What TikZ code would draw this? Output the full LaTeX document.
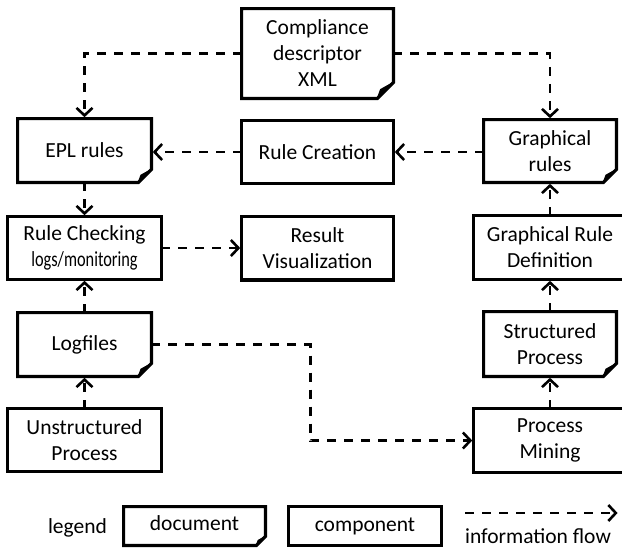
\documentclass[tikz,border=0pt]{standalone}
\usepackage{fontspec}
\setmainfont{Carlito}
\usepackage{graphicx}
\usetikzlibrary{arrows.meta}

% outline of a document box: rectangle with a curled bottom-right corner
\newcommand\docoutline[2]{%
  \pgfmathsetmacro\cfa{0.45*#2}\pgfmathsetmacro\cfb{0.8*#2}%
  \pgfmathsetmacro\cfc{0.8*#2}\pgfmathsetmacro\cfd{0.55*#2}%
  \pgfmathsetmacro\cfe{0.85*#2}\pgfmathsetmacro\cff{0.3*#2}%
  \draw[boxline] (#1.north west) -- (#1.north east)
    -- ([yshift=#2pt]#1.south east) -- ([xshift=-#2pt]#1.south east)
    -- (#1.south west) -- cycle;
  \filldraw[flap] ([yshift=#2pt]#1.south east)
    .. controls ([shift={(-\cfa pt,\cfb pt)}]#1.south east)
    .. ([shift={(-\cfc pt,\cfd pt)}]#1.south east)
    .. controls ([shift={(-\cfe pt,\cff pt)}]#1.south east)
    .. ([xshift=-#2pt]#1.south east) -- cycle;}

\tikzset{
  lbl/.style={font=\fontsize{21.5}{26}\selectfont, align=center,
    inner sep=0pt, outer sep=0pt},
  sz/.style 2 args={minimum width=#1pt, minimum height=#2pt},
  boxline/.style={line width=3.2pt, line join=miter},
  flap/.style={line width=1.2pt, fill=black, line join=round},
  docnode/.style={lbl},
  compnode/.style={lbl, draw, boxline},
  flow/.style={line width=2.6pt, dash pattern=on 9pt off 8pt,
    shorten >=1.4pt, -{Straight Barb[length=7.5pt,width=16pt]}},
}

\begin{document}
\begin{tikzpicture}[x=1pt, y=-1pt]
  \useasboundingbox (0,0) rectangle (622,549);
  \clip (0,0) rectangle (622,549);

  % documents
  \node[docnode, sz={151.8}{89.8}] (xml) at (317.5,53.5) {Compliance\\descriptor\\XML};
  \node[docnode, sz={133.8}{63.8}] (epl) at (84.5,150.5) {EPL rules};
  \node[docnode, sz={132.8}{62.8}] (grules) at (550,151) {Graphical\\rules};
  \node[docnode, sz={133.8}{63.8}] (log) at (84.5,344.5) {Logfiles};
  \node[docnode, sz={132.8}{64.8}] (sp) at (550,344) {Structured\\Process};

  % components
  \node[compnode, sz={151.8}{62.8}] (rc) at (317.5,152) {Rule Creation};
  \node[compnode, sz={153.8}{62.8}] (rchk) at (84.5,248)
    {Rule Checking\\\scalebox{0.76}[1]{logs/monitoring}};
  \node[compnode, sz={151.8}{63.8}] (rv) at (317.5,248) {Result\\Visualization};
  \node[compnode, sz={152.8}{63.8}] (grd) at (550,247.5) {Graphical Rule\\Definition};
  \node[compnode, sz={153.8}{62.8}] (up) at (84.5,440) {Unstructured\\Process};
  \node[compnode, sz={152.8}{63.8}] (pm) at (550,440.5) {Process\\Mining};

  \docoutline{xml}{16}
  \docoutline{epl}{13}
  \docoutline{grules}{13}
  \docoutline{log}{13}
  \docoutline{sp}{13}

  % information flow
  \draw[flow] (xml.west) -| (epl.north);
  \draw[flow] (xml.east) -| (grules.north);
  \draw[flow] (rc.west) -- (epl.east |- rc.west);
  \draw[flow] (grules.west |- rc.east) -- (rc.east);
  \draw[flow] (epl.south) -- (rchk.north);
  \draw[flow] (log.north) -- (rchk.south);
  \draw[flow] (up.north) -- (log.south);
  \draw[flow] (rchk.east) -- (rv.west |- rchk.east);
  \draw[flow] (log.east) -- ++(159,0) |- (pm.west);
  \draw[flow] (grd.north) -- (grules.south);
  \draw[flow] (sp.north) -- (grd.south);
  \draw[flow] (pm.north) -- (sp.south);

  % legend
  \node[lbl, anchor=base] (legtitle) at (77.5,533) {legend};
  \node[docnode, sz={141.8}{38.8}, text height=16pt, text depth=7pt] (legdoc) at (194.5,526) {document};
  \docoutline{legdoc}{9}
  \node[compnode, sz={152.8}{38.8}, text height=16pt, text depth=5pt] (legcomp) at (365,526) {component};
  \coordinate (flowstart) at (465,513);
  \coordinate (flowend) at (619,513);
  \draw[flow] (flowstart) -- (flowend);
  \node[lbl, anchor=base] (legflow) at (538,543) {information flow};
\end{tikzpicture}
\end{document}
